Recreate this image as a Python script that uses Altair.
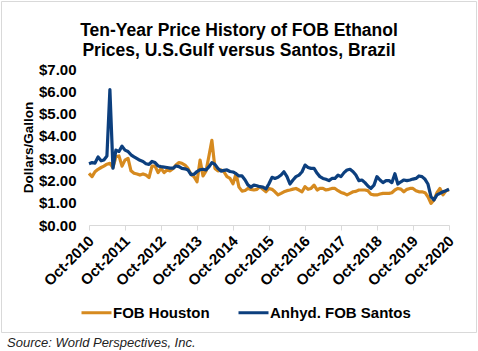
import altair as alt
import pandas as pd

# ---------------- data (monthly, Oct-2010 .. Oct-2020) ----------------
months = pd.date_range("2010-10-01", "2020-10-01", freq="MS").strftime("%Y-%m-%d").tolist()

houston = [
    2.32, 2.17, 2.39, 2.50, 2.58, 2.64, 2.73, 2.77, 2.58, 3.06, 3.10, 2.64,
    2.91, 2.99, 2.43, 2.32, 2.29, 2.24, 2.29, 2.24, 2.13, 2.64, 2.64, 2.35,
    2.54, 2.35, 2.47, 2.43, 2.54, 2.69, 2.80, 2.77, 2.69, 2.54, 2.28, 2.17,
    1.94, 2.91, 2.20, 2.43, 3.14, 3.80, 2.54, 2.43, 2.47, 2.39, 2.17, 2.09,
    1.85, 2.30, 1.70, 1.52, 1.55, 1.64, 1.60, 1.57, 1.60, 1.72, 1.60, 1.49,
    1.64, 1.60, 1.49, 1.35, 1.42, 1.49, 1.54, 1.57, 1.61, 1.64, 1.57, 1.49,
    1.72, 1.60, 1.64, 1.79, 1.57, 1.64, 1.64, 1.57, 1.60, 1.64, 1.64, 1.54,
    1.46, 1.42, 1.35, 1.42, 1.49, 1.51, 1.57, 1.57, 1.57, 1.54, 1.38, 1.35,
    1.35, 1.39, 1.42, 1.42, 1.42, 1.45, 1.57, 1.64, 1.61, 1.49, 1.60, 1.64,
    1.64, 1.54, 1.49, 1.49, 1.45, 1.27, 0.97, 1.12, 1.45, 1.64, 1.35, 1.54,
    1.57,
]

santos = [
    2.75, 2.80, 2.78, 3.05, 2.88, 2.92, 3.10, 6.08, 2.55, 3.36, 3.30, 3.54,
    3.36, 3.30, 3.15, 3.06, 2.98, 2.90, 2.85, 2.75, 2.72, 2.85, 2.80, 2.65,
    2.62, 2.60, 2.58, 2.55, 2.55, 2.65, 2.62, 2.54, 2.52, 2.47, 2.26, 2.28,
    2.40, 2.48, 2.50, 2.47, 2.62, 2.80, 2.72, 2.54, 2.42, 2.45, 2.47, 2.40,
    2.38, 2.30, 2.20, 2.20, 2.02, 1.80, 1.70, 1.79, 1.76, 1.72, 1.70, 1.62,
    1.85, 2.14, 2.09, 2.14, 2.24, 2.39, 2.17, 1.84, 2.02, 2.17, 2.24, 2.39,
    2.69, 2.58, 2.54, 2.54, 2.32, 2.17, 2.09, 2.05, 1.99, 2.09, 2.09, 2.24,
    2.17, 2.35, 2.47, 2.50, 2.39, 2.24, 1.99, 2.02, 1.90, 1.75, 1.64, 1.79,
    2.17, 2.02, 1.90, 1.99, 1.99, 1.90, 2.30, 1.84, 1.94, 2.02, 1.99, 2.02,
    2.06, 2.09, 2.20, 2.17, 2.05, 1.84, 1.27, 1.12, 1.35, 1.42, 1.49, 1.54,
    1.61,
]

series_names = ["FOB Houston", "Anhyd. FOB Santos"]
series_colors = ["#D68A1F", "#0C3F7E"]
tick_years = list(range(2010, 2021))
y_ticks = [0, 1, 2, 3, 4, 5, 6, 7]
title_lines = ["Ten-Year Price History of FOB Ethanol",
               "Prices, U.S.Gulf versus Santos, Brazil"]
source_text = "Source: World Perspectives, Inc."

FONT = "Liberation Sans"

df = pd.DataFrame({
    "date": months + months,
    "price": houston + santos,
    "series": [series_names[0]] * len(months) + [series_names[1]] * len(months),
})


def oct_first(y):
    return alt.DateTime(year=y, month=10, date=1, utc=True)


x_enc = alt.X(
    "date:T", title=None,
    scale=alt.Scale(type="utc", domain=[oct_first(2010), oct_first(2020)], nice=False),
    axis=alt.Axis(
        values=[oct_first(y) for y in tick_years],
        labelExpr="utcFormat(datum.value, '%b-%Y')",
        labelAngle=-45, labelAlign="right", labelBaseline="top", labelPadding=3,
        labelOffset=-3,
        labelFont=FONT, labelFontSize=15, labelFontWeight="bold", labelColor="#000",
        labelOverlap=False, labelFlush=False,
        domainColor="#d9d9d9", domainWidth=1, tickColor="#d9d9d9", tickSize=5,
        grid=False,
    ),
)

y_enc = alt.Y(
    "price:Q", title="Dollars/Gallon",
    scale=alt.Scale(domain=[0, 7], nice=False),
    axis=alt.Axis(
        values=y_ticks, format="$.2f", grid=False, domain=False, ticks=False,
        labelPadding=13, labelFont=FONT, labelFontSize=15, labelFontWeight="bold",
        labelColor="#000", labelFlush=False,
        titleFont=FONT, titleFontSize=13.5, titleFontWeight="bold", titleColor="#000",
        titlePadding=3,
    ),
)

color_enc = alt.Color(
    "series:N",
    scale=alt.Scale(domain=series_names, range=series_colors),
    legend=alt.Legend(
        title=None, orient="none", legendX=-9, legendY=227, direction="horizontal",
        symbolType="stroke", symbolSize=900, symbolStrokeWidth=3,
        labelFont=FONT, labelFontSize=15, labelFontWeight="bold", labelColor="#000",
        labelOffset=0, columnPadding=22, padding=0, labelLimit=300,
    ),
)

base = alt.Chart(df).encode(x=x_enc, y=y_enc, color=color_enc)

orange = base.transform_filter(alt.datum.series == series_names[0]).mark_line(
    strokeWidth=3.2, strokeJoin="round")
blue = base.transform_filter(alt.datum.series == series_names[1]).mark_line(
    strokeWidth=3.2, strokeJoin="round")

one = pd.DataFrame({"k": [0]})

border = alt.Chart(one).mark_rect(filled=False, stroke="#d9d9d9", strokeWidth=1).encode(
    x=alt.value(-87.5), x2=alt.value(387.5), y=alt.value(-67.5), y2=alt.value(263.5))

title = alt.Chart(one).mark_text(
    text=title_lines, font=FONT, fontSize=17.5, fontWeight="bold", lineHeight=20,
    align="center", baseline="middle", color="#000").encode(
    x=alt.value(150), y=alt.value(-38.5))

source = alt.Chart(one).mark_text(
    text=source_text, font=FONT, fontSize=13, fontStyle="italic",
    align="left", baseline="middle", color="#222").encode(
    x=alt.value(-82), y=alt.value(274))

chart = alt.layer(border, orange, blue, title, source).properties(
    width=360, height=156,
    padding={"left": 89, "top": 69, "right": 29, "bottom": 126},
    autosize=alt.AutoSizeParams(type="none"),
).configure_view(stroke=None)

chart.save("out.html", embed_options={"renderer": "svg", "actions": False})
